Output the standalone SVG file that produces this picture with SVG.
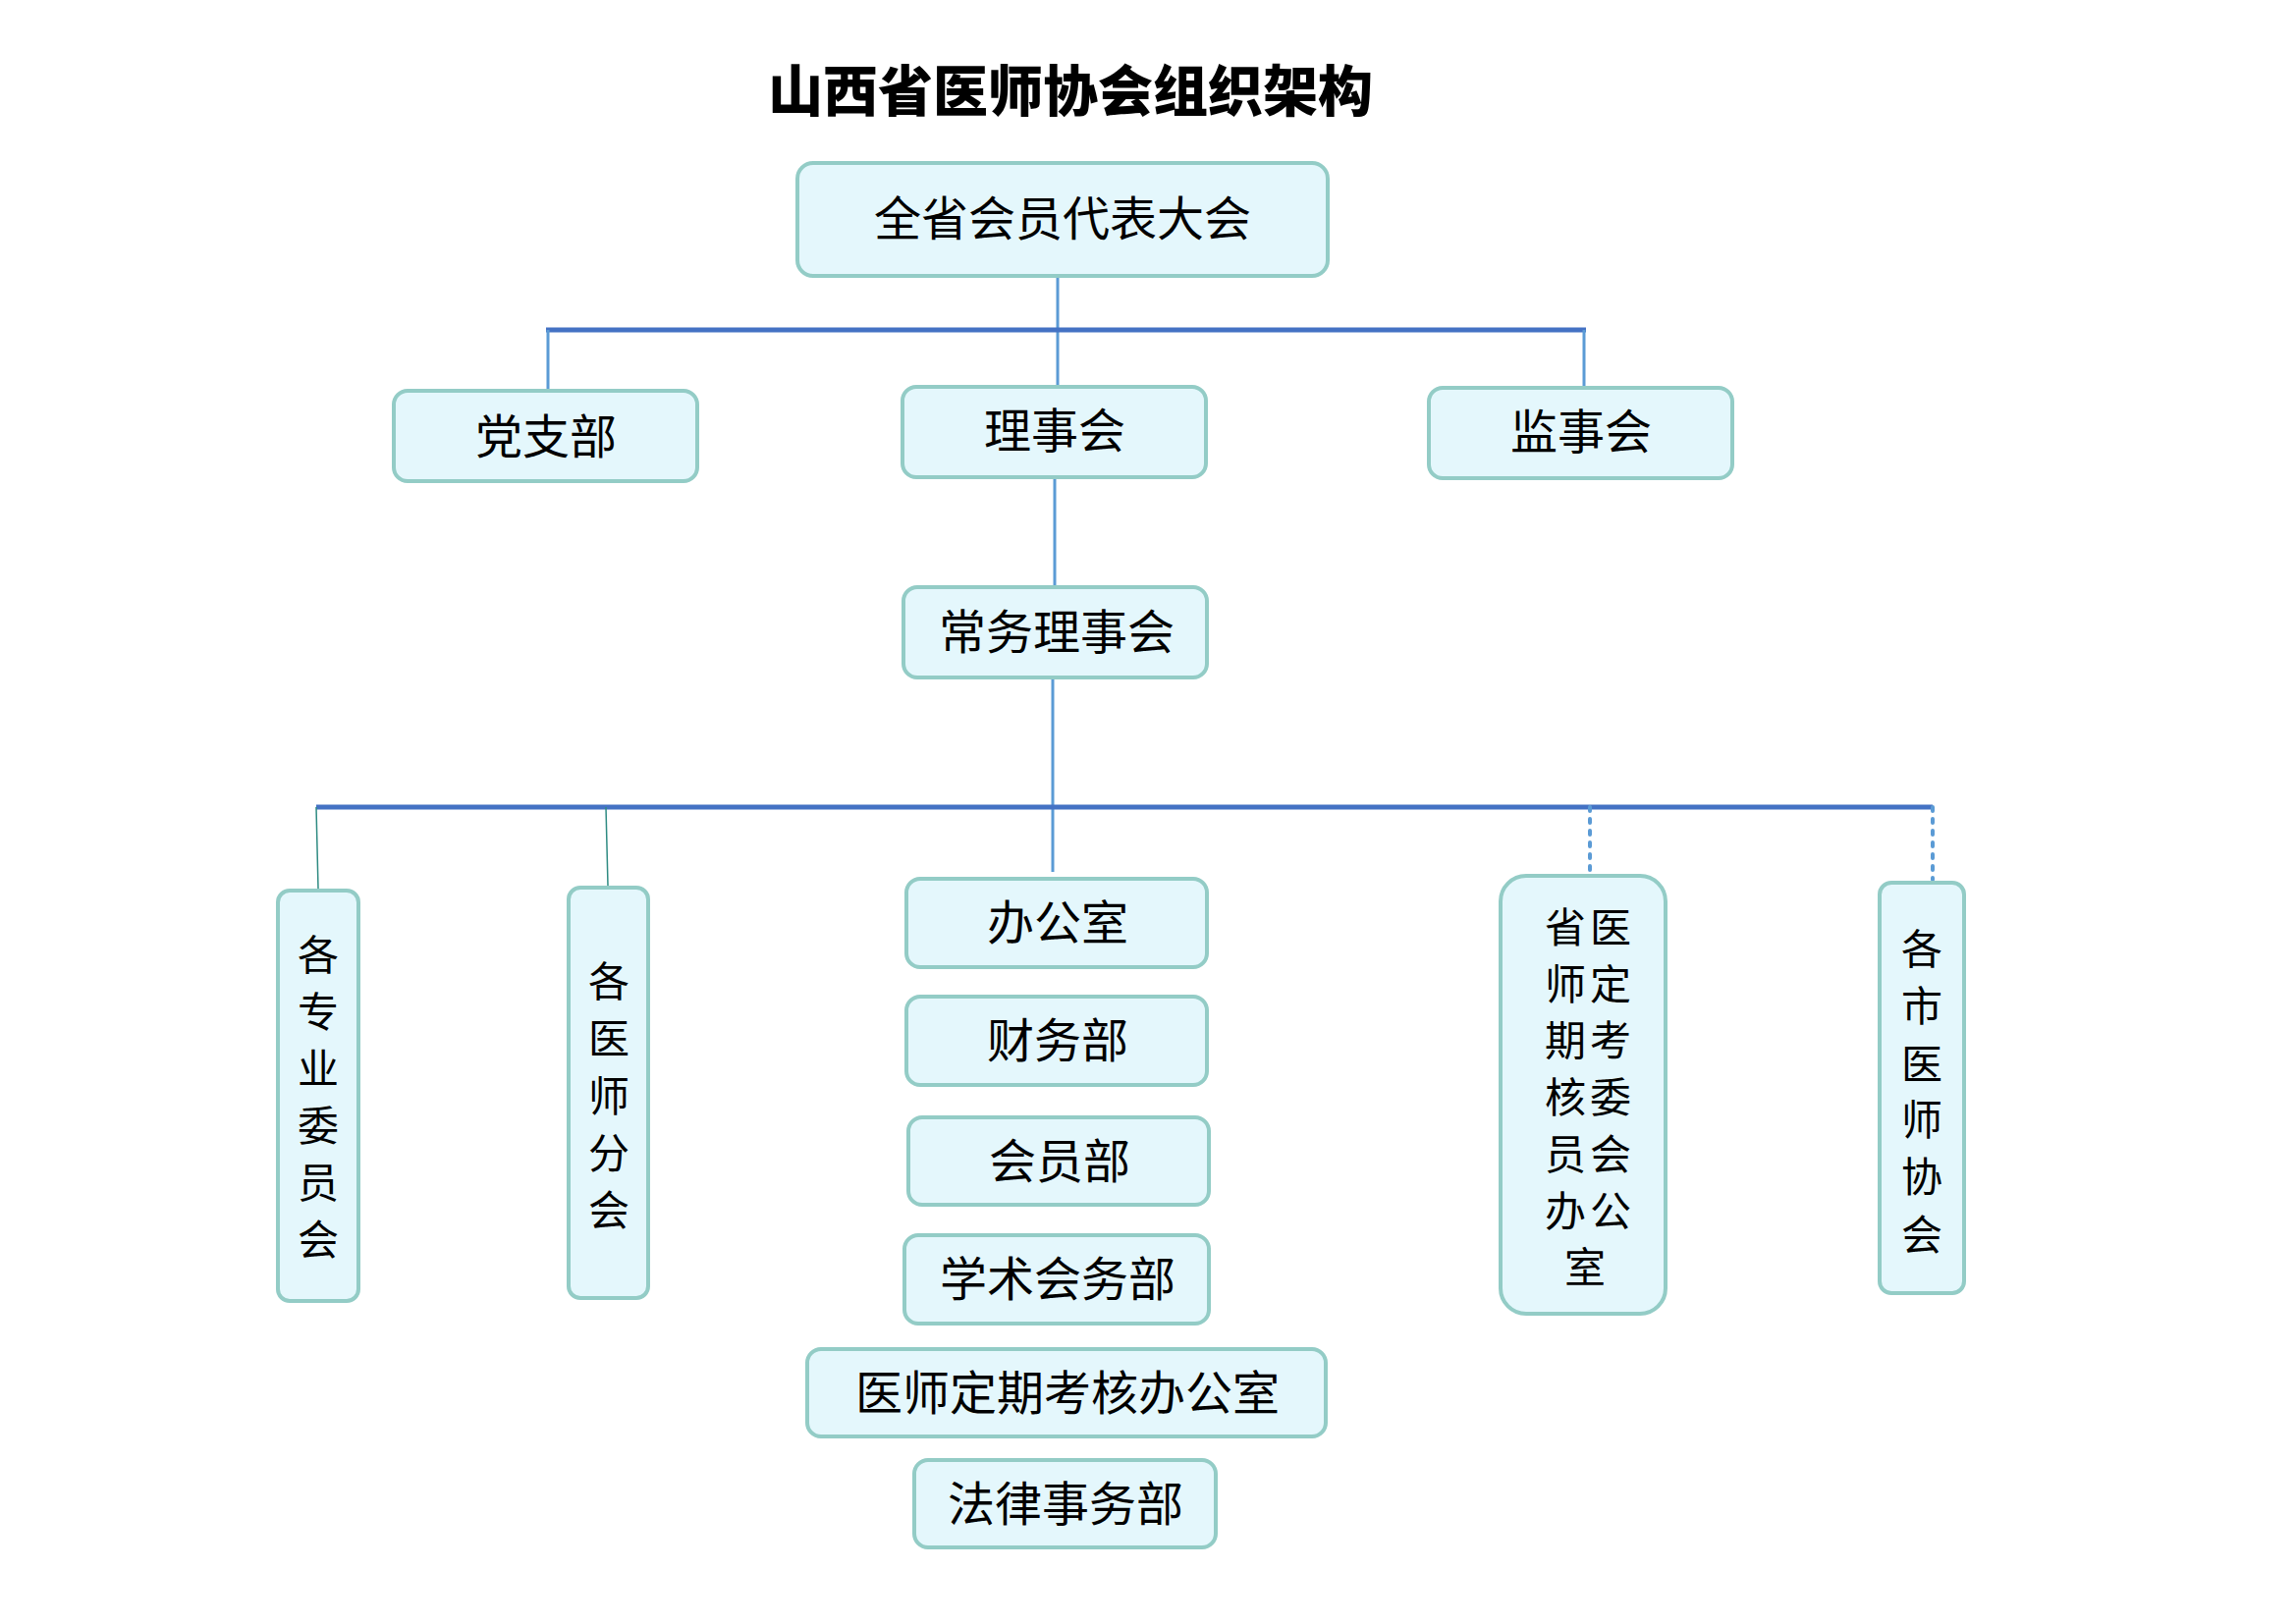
<svg xmlns="http://www.w3.org/2000/svg" width="2338" height="1654" viewBox="0 0 2338 1654">
<style>
.b{fill:#E4F7FC;stroke:#93CCC6;stroke-width:4}
.t{font-family:"Noto Sans CJK SC","Noto Sans",sans-serif;font-size:48px;fill:#000;text-anchor:middle;dominant-baseline:central}
.vt{font-size:42px}
.h{stroke:#4472C4;stroke-width:5;fill:none}
.v{stroke:#5B9BD5;stroke-width:3;fill:none}
.g{stroke:#2E8B82;stroke-width:1.5;fill:none}
.d{stroke:#5B9BD5;stroke-width:4;stroke-dasharray:4 8;stroke-linecap:round;fill:none}
</style>
<rect width="2338" height="1654" fill="#fff"/>
<text x="1090" y="88" class="t" style="font-size:56px;font-weight:900">山西省医师协会组织架构</text>
<g id="connectors">
<path class="v" d="M1077 281V393"/>
<path class="h" d="M556 336H1615"/>
<path class="v" d="M558 336V396M1613 336V393"/>
<path class="v" d="M1074 486V596M1072 689V888"/>
<path class="h" d="M322 822H1968"/>
<path class="g" d="M322 822L324 905M617 822L619 902"/>
<path class="d" d="M1619 822V890M1968 822V896"/>
</g>
<g id="n1"><rect class="b" x="812" y="166" width="540" height="115" rx="16"/><text class="t" x="1082" y="219">全省会员代表大会</text></g>
<g id="n2"><rect class="b" x="401" y="398" width="309" height="92" rx="14"/><text class="t" x="556" y="441">党支部</text></g>
<g id="n3"><rect class="b" x="919" y="394" width="309" height="92" rx="14"/><text class="t" x="1074" y="435">理事会</text></g>
<g id="n4"><rect class="b" x="1455" y="395" width="309" height="92" rx="14"/><text class="t" x="1610" y="436">监事会</text></g>
<g id="n5"><rect class="b" x="920" y="598" width="309" height="92" rx="14"/><text class="t" x="1076" y="640">常务理事会</text></g>
<g id="n6"><rect class="b" x="283" y="907" width="82" height="418" rx="12"/><text class="t vt"><tspan x="324" y="969">各</tspan><tspan x="324" y="1027">专</tspan><tspan x="324" y="1085">业</tspan><tspan x="324" y="1143">委</tspan><tspan x="324" y="1201">员</tspan><tspan x="324" y="1259">会</tspan></text></g>
<g id="n7"><rect class="b" x="579" y="904" width="81" height="418" rx="12"/><text class="t vt"><tspan x="620" y="996">各</tspan><tspan x="620" y="1054">医</tspan><tspan x="620" y="1113">师</tspan><tspan x="620" y="1171">分</tspan><tspan x="620" y="1229">会</tspan></text></g>
<g id="n8"><rect class="b" x="923" y="895" width="306" height="90" rx="14"/><text class="t" x="1077" y="936">办公室</text></g>
<g id="n9"><rect class="b" x="923" y="1015" width="306" height="90" rx="14"/><text class="t" x="1077" y="1056">财务部</text></g>
<g id="n10"><rect class="b" x="925" y="1138" width="306" height="89" rx="14"/><text class="t" x="1079" y="1179">会员部</text></g>
<g id="n11"><rect class="b" x="921" y="1258" width="310" height="90" rx="14"/><text class="t" x="1077" y="1299">学术会务部</text></g>
<g id="n12"><rect class="b" x="822" y="1374" width="528" height="89" rx="14"/><text class="t" x="1087" y="1415">医师定期考核办公室</text></g>
<g id="n13"><rect class="b" x="931" y="1487" width="307" height="89" rx="14"/><text class="t" x="1085" y="1528">法律事务部</text></g>
<g id="n14"><rect class="b" x="1528" y="892" width="168" height="446" rx="26"/><text class="t vt"><tspan x="1594" y="941">省</tspan><tspan x="1640" y="941">医</tspan><tspan x="1594" y="999">师</tspan><tspan x="1640" y="999">定</tspan><tspan x="1594" y="1056">期</tspan><tspan x="1640" y="1056">考</tspan><tspan x="1594" y="1114">核</tspan><tspan x="1640" y="1114">委</tspan><tspan x="1594" y="1172">员</tspan><tspan x="1640" y="1172">会</tspan><tspan x="1594" y="1230">办</tspan><tspan x="1640" y="1230">公</tspan><tspan x="1614" y="1287">室</tspan></text></g>
<g id="n15"><rect class="b" x="1914" y="899" width="86" height="418" rx="12"/><text class="t vt"><tspan x="1957" y="963">各</tspan><tspan x="1957" y="1021">市</tspan><tspan x="1957" y="1080">医</tspan><tspan x="1957" y="1137">师</tspan><tspan x="1957" y="1195">协</tspan><tspan x="1957" y="1254">会</tspan></text></g>
</svg>
